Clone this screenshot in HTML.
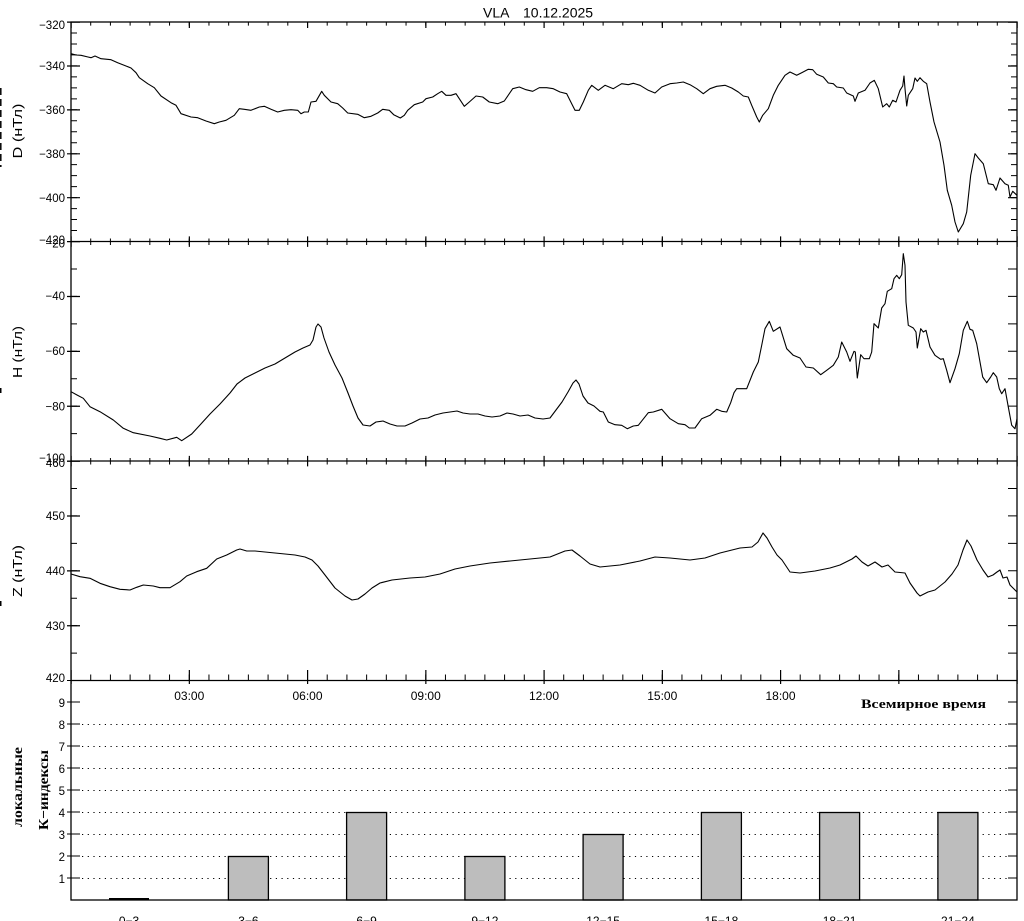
<!DOCTYPE html>
<html><head><meta charset="utf-8"><style>
html,body{margin:0;padding:0;background:#fff;}
svg{display:block;}
text{font-family:"Liberation Sans",sans-serif;fill:#000;}
.s{font-family:"Liberation Serif","DejaVu Serif",serif;font-weight:bold;}
</style></head><body>
<svg width="1024" height="921" viewBox="0 0 1024 921" xmlns="http://www.w3.org/2000/svg">
<rect width="1024" height="921" fill="#fff"/>
<!-- title -->
<text x="483" y="17.5" font-size="14">VLA</text>
<text x="523" y="17.5" font-size="14">10.12.2025</text>

<!-- cut-off left label slivers -->
<line x1="0.8" y1="88" x2="0.8" y2="167" stroke="#000" stroke-width="1.5" stroke-dasharray="7 4"/>
<rect x="0" y="388" width="1.5" height="5" fill="#000"/>
<rect x="0" y="601" width="1.5" height="5" fill="#000"/>

<!-- K gridlines -->
<g stroke="#000" stroke-width="1" stroke-dasharray="1.2 4.5">
<line x1="82" y1="878.5" x2="1007" y2="878.5"/>
<line x1="82" y1="856.5" x2="1007" y2="856.5"/>
<line x1="82" y1="834.5" x2="1007" y2="834.5"/>
<line x1="82" y1="812.5" x2="1007" y2="812.5"/>
<line x1="82" y1="790.5" x2="1007" y2="790.5"/>
<line x1="82" y1="768.5" x2="1007" y2="768.5"/>
<line x1="82" y1="746.5" x2="1007" y2="746.5"/>
<line x1="82" y1="724.5" x2="1007" y2="724.5"/>
</g>
<!-- K bars -->
<g fill="#bdbdbd" stroke="#000" stroke-width="1.3">
<rect x="228.4" y="856.5" width="40" height="43.5"/>
<rect x="346.6" y="812.5" width="40" height="87.5"/>
<rect x="464.9" y="856.5" width="40" height="43.5"/>
<rect x="583.1" y="834.5" width="40" height="65.5"/>
<rect x="701.4" y="812.5" width="40" height="87.5"/>
<rect x="819.6" y="812.5" width="40" height="87.5"/>
<rect x="937.9" y="812.5" width="40" height="87.5"/>
</g>
<rect x="109" y="898" width="40" height="2" fill="#000"/>

<!-- axes frame -->
<g fill="none" stroke="#000" stroke-width="1.3">
<rect x="71" y="22" width="946" height="878"/>
<line x1="71" y1="241.5" x2="1017" y2="241.5"/>
<line x1="71" y1="461" x2="1017" y2="461"/>
<line x1="71" y1="680.5" x2="1017" y2="680.5"/>
</g>

<!-- x ticks (dash trick) -->
<g fill="none" stroke="#000">
<line x1="70.5" y1="23.8" x2="1018" y2="23.8" stroke-width="3.6" stroke-dasharray="1 18.7083"/>
<line x1="70.5" y1="25" x2="1018" y2="25" stroke-width="6" stroke-dasharray="1.2 117.05"/>
<line x1="70.5" y1="241.8" x2="1018" y2="241.8" stroke-width="6.5" stroke-dasharray="1 18.7083"/>
<line x1="70.5" y1="241.6" x2="1018" y2="241.6" stroke-width="10.5" stroke-dasharray="1.2 117.05"/>
<line x1="70.5" y1="461.3" x2="1018" y2="461.3" stroke-width="6.5" stroke-dasharray="1 18.7083"/>
<line x1="70.5" y1="461.1" x2="1018" y2="461.1" stroke-width="10.5" stroke-dasharray="1.2 117.05"/>
<line x1="70.5" y1="677.5" x2="1018" y2="677.5" stroke-width="6" stroke-dasharray="1 18.7083"/>
<line x1="70.5" y1="677" x2="1018" y2="677" stroke-width="14" stroke-dasharray="1.2 117.05"/>
</g>

<!-- y ticks -->
<g fill="none" stroke="#000">
<line x1="74" y1="21.5" x2="74" y2="242" stroke-width="6" stroke-dasharray="1 9.975"/>
<line x1="73.5" y1="21.5" x2="73.5" y2="242" stroke-width="13" stroke-dasharray="1.2 42.7"/>
<line x1="1014" y1="21.5" x2="1014" y2="242" stroke-width="6" stroke-dasharray="1 9.975"/>
<line x1="1012.5" y1="21.5" x2="1012.5" y2="242" stroke-width="9" stroke-dasharray="1.2 42.7"/>
<line x1="74" y1="241" x2="74" y2="462" stroke-width="6" stroke-dasharray="1 26.44"/>
<line x1="73.5" y1="241" x2="73.5" y2="462" stroke-width="13" stroke-dasharray="1.2 53.675"/>
<line x1="1012.5" y1="241" x2="1012.5" y2="462" stroke-width="9" stroke-dasharray="1 26.44"/>
<line x1="74" y1="460.5" x2="74" y2="681" stroke-width="6" stroke-dasharray="1 26.44"/>
<line x1="73.5" y1="460.5" x2="73.5" y2="681" stroke-width="13" stroke-dasharray="1.2 53.675"/>
<line x1="1012.5" y1="460.5" x2="1012.5" y2="681" stroke-width="9" stroke-dasharray="1 26.44"/>
<line x1="73.5" y1="701.5" x2="73.5" y2="879" stroke-width="13" stroke-dasharray="1 21"/>
<line x1="1012.5" y1="701.5" x2="1012.5" y2="879" stroke-width="9" stroke-dasharray="1 21"/>
</g>

<!-- y tick labels -->
<g font-size="11.5" text-anchor="end">
<text x="65" y="29">−320</text>
<text x="65" y="70">−340</text>
<text x="65" y="114">−360</text>
<text x="65" y="158">−380</text>
<text x="65" y="202">−400</text>
<text x="65" y="244">−420</text>
<text x="65" y="247.5">−20</text>
<text x="65" y="300">−40</text>
<text x="65" y="355">−60</text>
<text x="65" y="410.5">−80</text>
<text x="65" y="462">−100</text>
<text x="65" y="467">460</text>
<text x="65" y="520">450</text>
<text x="65" y="575">440</text>
<text x="65" y="630">430</text>
<text x="65" y="682">420</text>
<text x="65" y="707">9</text>
<text x="65" y="729">8</text>
<text x="65" y="751">7</text>
<text x="65" y="773">6</text>
<text x="65" y="795">5</text>
<text x="65" y="817">4</text>
<text x="65" y="839">3</text>
<text x="65" y="861">2</text>
<text x="65" y="883">1</text>
</g>

<!-- x labels -->
<g font-size="12" text-anchor="middle">
<text x="189.25" y="700">03:00</text>
<text x="307.5" y="700">06:00</text>
<text x="425.75" y="700">09:00</text>
<text x="544" y="700">12:00</text>
<text x="662.25" y="700">15:00</text>
<text x="780.5" y="700">18:00</text>
<text x="129" y="925">0−3</text>
<text x="248.4" y="925">3−6</text>
<text x="366.6" y="925">6−9</text>
<text x="484.9" y="925">9−12</text>
<text x="603.1" y="925">12−15</text>
<text x="721.4" y="925">15−18</text>
<text x="839.6" y="925">18−21</text>
<text x="957.9" y="925">21−24</text>
</g>
<text class="s" x="861" y="708" font-size="13" textLength="125" lengthAdjust="spacingAndGlyphs">Всемирное время</text>

<!-- y axis titles -->
<g font-size="12.5" text-anchor="middle">
<text transform="translate(22,131) rotate(-90)" textLength="55" lengthAdjust="spacingAndGlyphs">D (нТл)</text>
<text transform="translate(22,352) rotate(-90)" textLength="52" lengthAdjust="spacingAndGlyphs">H (нТл)</text>
<text transform="translate(22,571) rotate(-90)" textLength="52" lengthAdjust="spacingAndGlyphs">Z (нТл)</text>
</g>
<text class="s" font-size="14" text-anchor="middle" transform="translate(22,787) rotate(-90)" textLength="80" lengthAdjust="spacingAndGlyphs">локальные</text>
<text class="s" font-size="14" text-anchor="middle" transform="translate(48,790) rotate(-90)" textLength="80" lengthAdjust="spacingAndGlyphs">К−индексы</text>

<!-- data -->
<g fill="none" stroke="#000" stroke-width="1.1" stroke-linejoin="round">
<path d="M71 53.7 L76 55 81 55.3 88 57 91 57.7 95 56 101 58.7 111 59.7 117.7 62.7 126 66 131 68 136 72.7 139.3 77.7 147.7 83.7 154.3 87.7 161 96 171 102.7 176 105.3 181 113.7 191 117 197.7 117.7 206 121 214.3 123.7 219.3 122 226 120.3 234.3 115.3 239.3 108.7 244.3 109.3 251 110.3 259.3 107 264.3 106.3 271 109.3 277.7 112 284.3 110.3 291 109.7 297.7 110.3 301 113.7 304.3 112 308.3 112 311 102 316 101.3 321.7 91.3 324.3 95.3 331 102 337.7 103.7 342.7 108 347.7 113 357.7 114.3 364.3 117.7 371 116.3 377.7 113 382.7 109.3 389.3 110.3 393.7 114.7 400.3 118 404.3 115.3 407.7 110.3 414.3 104.7 422.7 102 426 98.7 432.7 97 437.7 93.7 441.7 91.3 446 95.3 451 95.3 456 93.7 459.3 98.7 464.3 106.3 469.3 102 476 96 482.7 97 489.3 102 497.7 103.7 504.3 101 512.7 88.7 519.3 87 526 89.7 532.7 91.3 539.3 87.7 546.7 87.7 553.3 88.7 560 92 566.7 93.7 571.7 103.7 575 110.3 579.3 110.3 583.3 102 588.3 90.3 591.7 85.3 598.3 90.3 605 85.3 613.3 88.7 621.7 83.7 628.3 84.7 633.3 83.3 640 85.3 648.3 90.3 655 93 661.7 87 670 83.7 676.7 83 683.3 82 690 84.7 696.7 88.7 703.3 93.7 710 88.7 716.7 86.3 725 85.3 731.7 88 738.3 92 743.3 96 748.3 97 751.7 105.3 756.7 117 759.3 122 762.7 115.3 768.3 108.7 773.3 95.3 778.3 85.3 785 75.3 790 72 796.7 75.3 801.7 72.7 808.3 69.3 812.7 69.7 816.7 74.3 823.3 77 828.3 83 833.3 83.7 836.7 87 843.3 88 846.7 93 853.3 96 855 101.3 858.3 93 865 90.3 870 83 874.3 80.3 878.3 88.7 882.7 107 886.7 103.7 889.3 107 892.7 100.3 896 102 900 90.3 902.7 86 904 76 905 88.7 906.7 106 908.3 95.3 912.7 88.7 915 78 917.3 81.3 920 77.7 923.3 81.3 926.7 83.7 930 102 934 122 940 142 944 165.3 947.3 190.3 951.7 205.3 955 222 958.3 232 963.3 223.7 966.7 212 970.7 175.3 975 153.7 978.3 158 983.3 163.7 988.3 183.7 993.3 184.7 996 190.3 1000 178 1005 183.7 1008.3 185.3 1010 197 1012.7 191.3 1017 195.3"/>
<path d="M71 391.7 L77 395 83.3 398.3 90 406.7 100 411.7 113.3 420 123.3 428.3 133.3 432.7 150 436 160 438.3 166.7 440 176.7 437.3 181.7 440.7 191.7 434 200 425 210 414 220 404 230 393 237 384 245 378 255 373 265 368 275 364 285 358 295 352 303 348 310 345 313 340 316 327 318 324 321 327 324 338 329 352 335 365 342 378 348 393 353 406 358 418 363 425 370 426 376 422 383 421 390 424 397 426 405 426 412 423 420 419 428 418 435 415 443 413 450 412 457 411 463 413 470 414 478 414 485 416 492 417 500 416 507 413 513 414 520 416 528 415 535 418 543 419 550 418 556 410 562 402 568 392 573 383 576 380 579 384 583 396 588 403 594 406 600 411.3 603.3 412 608.3 422 615 424.7 621.7 425.3 627.3 428.7 633.3 426 638.3 425.3 648.3 412.7 653.3 412 661.7 409.3 670 418.7 678.3 423.7 685 424.7 689.3 428 695 428 701.7 418.7 710 415.3 716.7 409.3 721.7 411.3 726.7 412 730.7 402.7 734 392.7 736.7 388.7 746.7 388.7 753.3 372 758.3 362 761.7 345.3 765 328.7 769.3 321.3 773.3 331.3 780 327 786.7 348.7 793.3 355.3 800 358 806 367 813.3 368 820.7 374.7 826.7 370.3 833.3 365.3 838.3 357 841.7 342 846.7 352 850 361.3 854 351.3 855.3 352 857.3 378 860.7 354.7 864 358.7 869.3 358.7 871.7 352 874 323.7 878.3 328 881.7 308 885 303.7 887.3 291.3 891.7 288.7 894 278.7 896.7 275.3 899.3 278.7 901.7 274.7 903.3 253.7 905 265.3 906 302 908.3 325.3 913.3 328 916 332 917.3 348 920.7 328.7 923.3 332 926 330.3 930 347 935 355.3 940.7 359.3 943.3 358.7 946.7 370.3 950 382.7 955 368.7 959.3 353.7 963.3 330.3 967.3 321.3 970 329.3 972.7 330.3 976.7 343.7 980 362 982.7 377 986.7 382.7 990.7 377 993.3 372.7 996.7 377 999.3 388.7 1001.7 393.7 1005 388.7 1008.3 407 1011.7 425.3 1015 428.7 1017 418.7"/>
<path d="M71 574 L80 576.7 90 578.3 100 583.3 110 586.7 120 589.3 130 590 136.7 587.3 143.3 585 153.3 586 160 587.7 170 587.7 180 581.7 186.7 576 196.7 571.7 206.7 568.3 216.7 559 226.7 555 236.7 550 240 549 246.7 551 255 551 265 552 275 553 285 554 295 555 305 557 312 560 318 566 325 575 335 588 345 596 352 600 358 599 365 594 372 588 380 583 392 580 410 578 425 577 440 574 455 569 470 566 490 563 510 561 530 559 550 557 565 551 572 550 580 556 590 564 600 567 620 565 640 561 655 557 670 558 690 560 705 558 720 553 740 548 752 547 758 542 763 533 767 538 772 547 777 555 782 560 790 572 800 573 815 571 830 568 840 565 852 559 856 556 862 562 868 566 875 562 882 567 888 565 895 572 905 573 910 583 917 593 920 596 928 592 935 590 945 582 952 574 958 565 963 550 967 540 971 546 977 560 983 570 988 577 993 575 997 572 1000 570 1003 578 1007 577 1010 585 1015 590 1017 592"/>
</g>
</svg>
</body></html>
